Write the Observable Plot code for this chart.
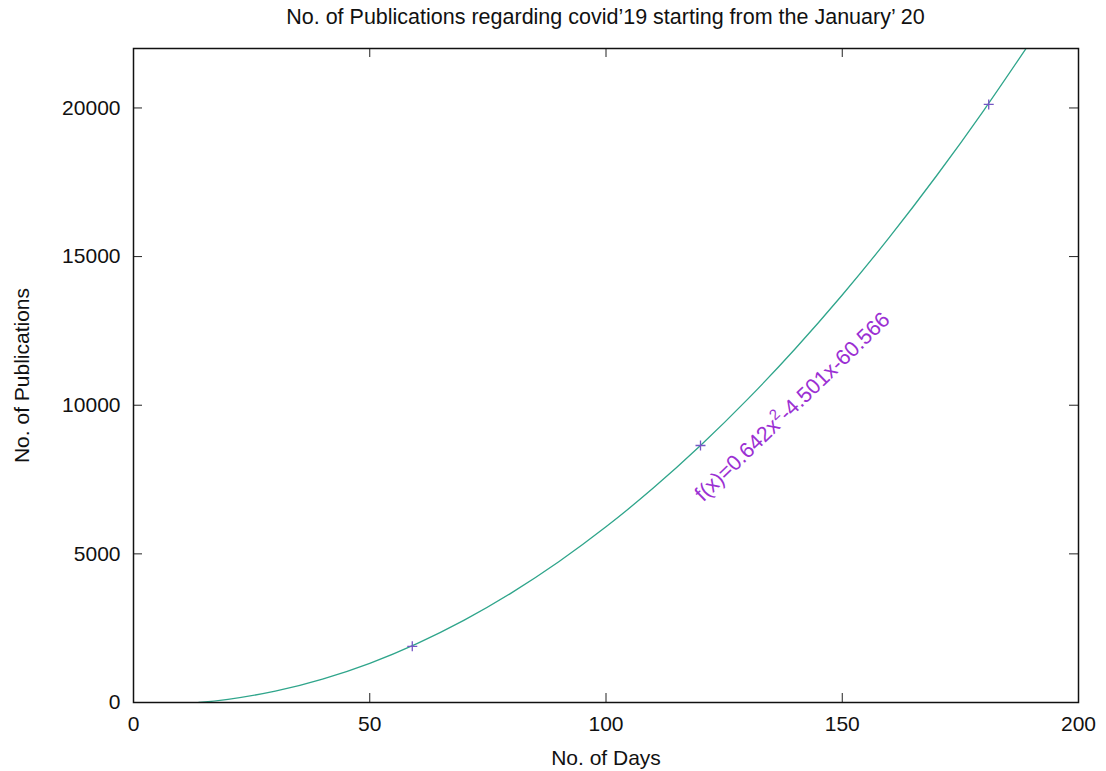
<!DOCTYPE html>
<html>
<head>
<meta charset="utf-8">
<script src="https://cdn.jsdelivr.net/npm/d3@7"></script>
<script src="https://cdn.jsdelivr.net/npm/@observablehq/plot@0.6"></script>
<style>
  html, body { margin: 0; padding: 0; background: #fff; }
  #title { margin-left: 133px; width: 945px; height: 34px; line-height: 34px; text-align: center;
           font-family: "Liberation Sans", Arial, sans-serif; font-size: 21.5px; color: #111; }
  svg { display: block; }
</style>
</head>
<body>
<div id="title">No. of Publications regarding covid’19 starting from the January’ 20</div>
<div id="chart"></div>
<script>
// Observed data points (days, publications)
const pointDays = [59, 120, 181];
const pointPubs = [1890, 8645, 20120];

// Fitted curve (days, publications)
const curveDays = [13.8, 20, 30, 40, 50, 60, 70, 80, 90, 100, 110, 120, 130, 140, 150, 160, 170, 180, 190];
const curvePubs = [0, 106, 382, 787, 1319, 1981, 2770, 3688, 4735, 5909, 7213, 8644, 10204, 11893, 13709, 15654, 17728, 19930, 22259];

const xTicks = [0, 50, 100, 150, 200];
const yTicks = [0, 5000, 10000, 15000, 20000];

const fitLabelParts = ["f(x)=0.642x", "2", "-4.501x-60.566"];
const fitLabel = fitLabelParts.join("");
const fitLabelAt = [{x: 120.6, y: 6728}];

const points = pointDays.map((d, i) => ({x: d, y: pointPubs[i]}));
const curve = curveDays.map((d, i) => ({x: d, y: curvePubs[i]}));

const thinPlus = {
  draw(context, size) {
    const r = Math.sqrt(size / Math.PI);
    context.moveTo(-r, 0); context.lineTo(r, 0);
    context.moveTo(0, -r); context.lineTo(0, r);
  }
};

const W = 1106, H = 737, mL = 133, mR = 28, mT = 14, mB = 69;
const plotH = H - mT - mB, plotW = W - mL - mR;
const tick = 9;
const font = "'Liberation Sans', Arial, sans-serif";

const chart = Plot.plot({
  width: W,
  height: H,
  marginLeft: mL,
  marginRight: mR,
  marginTop: mT,
  marginBottom: mB,
  style: {fontFamily: font, fontSize: "21px", color: "#111", background: "#fff"},
  x: {domain: [0, 200]},
  y: {domain: [0, 22000]},
  marks: [
    Plot.axisX(xTicks, {tickSize: 0, tickPadding: 14, tickFormat: d => String(d), label: null, fontSize: 21}),
    Plot.axisY(yTicks, {tickSize: 0, tickPadding: 13, tickFormat: d => String(d), label: null, fontSize: 21}),
    Plot.ruleX(xTicks, {x: d => d, insetTop: plotH - tick, stroke: "#222", strokeWidth: 1}),
    Plot.ruleX(xTicks, {x: d => d, insetBottom: plotH - tick, stroke: "#222", strokeWidth: 1}),
    Plot.ruleY(yTicks, {y: d => d, insetRight: plotW - tick, stroke: "#222", strokeWidth: 1}),
    Plot.ruleY(yTicks, {y: d => d, insetLeft: plotW - tick, stroke: "#222", strokeWidth: 1}),
    Plot.line(curve, {x: "x", y: "y", curve: "natural", stroke: "#2fa58b", strokeWidth: 1.3, clip: true}),
    Plot.dot(points, {x: "x", y: "y", symbol: thinPlus, r: 5, fill: "none", stroke: "#7656c4", strokeWidth: 1.3}),
    Plot.text(fitLabelAt, {x: "x", y: "y", text: () => fitLabel, rotate: -44, textAnchor: "start", lineAnchor: "bottom", fill: "#9b30d3", fontSize: 21.5}),
    Plot.text(["No. of Publications"], {text: d => d, frameAnchor: "left", dx: -111, rotate: -90, textAnchor: "middle", lineAnchor: "middle", fontSize: 21, fill: "#111"}),
    Plot.text(["No. of Days"], {text: d => d, frameAnchor: "bottom", dy: 56, textAnchor: "middle", lineAnchor: "middle", fontSize: 21, fill: "#111"}),
    Plot.frame({stroke: "#111", strokeWidth: 1.5})
  ]
});

// Turn the "2" of the fitted formula into a real superscript
d3.select(chart).selectAll("text").filter(function() { return this.textContent === fitLabel; })
  .each(function() {
    const t = d3.select(this);
    t.text(null);
    t.append("tspan").text(fitLabelParts[0]);
    t.append("tspan").attr("dy", -9).attr("font-size", 15).text(fitLabelParts[1]);
    t.append("tspan").attr("dy", 9).text(fitLabelParts[2]);
  });

document.getElementById("chart").appendChild(chart);
</script>
</body>
</html>
